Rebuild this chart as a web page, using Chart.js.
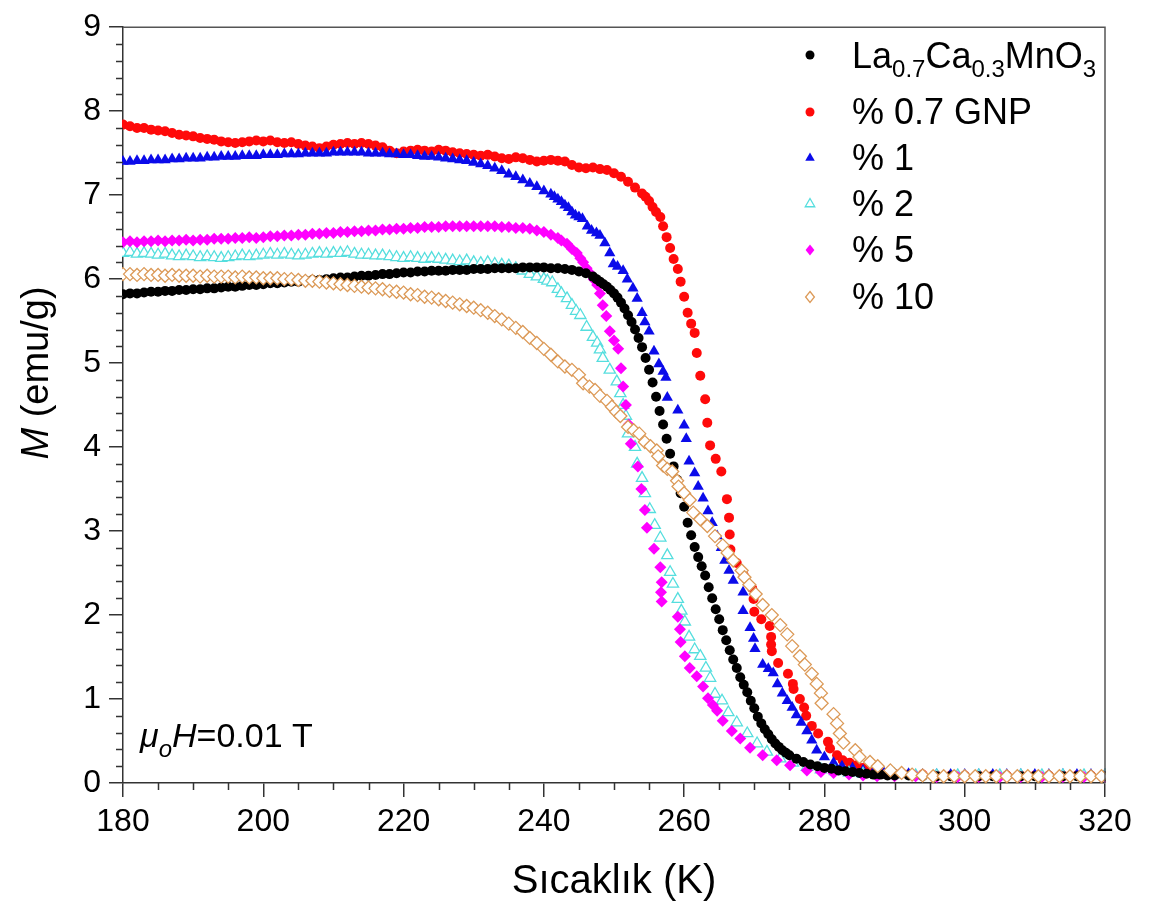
<!DOCTYPE html>
<html>
<head>
<meta charset="utf-8">
<title>M - T</title>
<script src="https://cdn.jsdelivr.net/npm/chart.js@4.4.1/dist/chart.umd.min.js"></script>
<style>
  html, body { margin: 0; padding: 0; background: #fff; }
  #wrap { width: 1149px; height: 910px; }
</style>
</head>
<body>
<div id="wrap"><canvas id="mt" width="1149" height="910"></canvas></div>
<script>
// [T (K), M (emu/g)]
const lcmo = [
  [180,5.82],[181,5.83],[182,5.83],[183,5.84],[184,5.85],[185,5.85],[186,5.86],[187,5.86],[188,5.87],[189,5.87],
  [190,5.88],[191,5.88],[192,5.89],[193,5.89],[194,5.90],[195,5.91],[196,5.91],[197,5.92],[198,5.93],[199,5.93],
  [200,5.94],[201,5.95],[202,5.95],[203,5.96],[204,5.97],[205,5.97],[206,5.98],[207,5.99],[208,5.99],[209,6.00],
  [210,6.01],[211,6.02],[212,6.02],[213,6.03],[214,6.04],[215,6.04],[216,6.05],[217,6.06],[218,6.06],[219,6.07],
  [220,6.08],[221,6.08],[222,6.09],[223,6.09],[224,6.10],[225,6.10],[226,6.10],[227,6.11],[228,6.11],[229,6.11],
  [230,6.12],[231,6.12],[232,6.12],[233,6.13],[234,6.13],[235,6.13],[236,6.13],[237,6.14],[238,6.14],[239,6.14],
  [240,6.14],[241,6.13],[242,6.13],[243,6.12],[244,6.11],[245,6.09],[246,6.07],[247,6.03],
  [247.5,6.00],[248,5.97],[248.5,5.94],[249,5.91],[249.5,5.87],[250,5.83],[250.5,5.78],[251,5.72],[251.5,5.65],[252,5.57],
  [252.5,5.49],[253,5.40],[253.5,5.30],[254,5.19],[254.5,5.06],[255,4.92],[255.5,4.77],[256,4.60],[256.5,4.43],[257,4.27],
  [257.5,4.10],[258,3.92],[258.5,3.77],[259,3.61],[259.5,3.45],[260,3.29],[260.5,3.10],[261,2.95],[261.5,2.81],[262,2.69],
  [262.5,2.58],[263,2.47],[263.5,2.33],[264,2.20],[264.5,2.07],[265,1.95],[265.5,1.82],[266,1.70],[266.5,1.58],[267,1.47],
  [267.5,1.37],[268,1.26],[268.5,1.17],[269,1.08],[269.5,0.98],[270,0.89],[270.5,0.79],[271,0.71],[271.5,0.64],[272,0.58],
  [272.5,0.52],[273,0.47],[273.5,0.43],[274,0.39],[274.5,0.36],[275,0.33],[276,0.29],[277,0.25],[278,0.22],[279,0.20],
  [280,0.18],[281,0.17],[282,0.15],[283,0.14],[284,0.13],[285,0.12],[286,0.11],[287,0.10],[288,0.10],[289,0.09],
  [290,0.09],[292,0.09],[294,0.08],[296,0.08],[298,0.08],[300,0.08],[302,0.08],[304,0.08],[306,0.08],[308,0.08],
  [310,0.08],[312,0.08],[314,0.08],[316,0.08],[318,0.08],[320,0.08]
];

const gnp07 = [
  [180,7.84],[181,7.82],[182,7.80],[183,7.80],[184,7.78],[185,7.77],[186,7.76],[187,7.74],[188,7.72],[189,7.71],
  [190,7.70],[191,7.68],[192,7.67],[193,7.66],[194,7.64],[195,7.63],[196,7.62],[197,7.63],[198,7.64],[199,7.65],
  [200,7.64],[201,7.65],[202,7.63],[203,7.62],[204,7.63],[205,7.61],[206,7.59],[207,7.58],[208,7.56],[209,7.58],
  [210,7.60],[211,7.61],[212,7.62],[213,7.61],[214,7.62],[215,7.61],[216,7.59],[217,7.57],[218,7.53],[219,7.50],
  [220,7.52],[221,7.53],[222,7.54],[223,7.53],[224,7.52],[225,7.54],[226,7.53],[227,7.51],[228,7.50],[229,7.49],
  [230,7.48],[231,7.47],[232,7.48],[233,7.46],[234,7.44],[235,7.43],[236,7.45],[237,7.44],[238,7.42],[239,7.40],
  [240,7.41],[241,7.42],[242,7.41],[243,7.40],[244,7.36],[245,7.33],[246,7.32],[247,7.33],[248,7.31],[249,7.30],
  [250,7.26],[251,7.22],[252,7.16],[253,7.09],[254,7.02],
  [254.5,6.98],[255,6.93],[255.5,6.86],[256,6.80],[256.6,6.74],[257,6.63],[257.5,6.50],[258,6.37],[258.5,6.24],[259.1,6.12],
  [259.5,5.97],[260,5.79],[260.5,5.60],[261,5.47],[261.5,5.36],[261.8,5.12],[262.3,4.85],[263,4.57],[263.3,4.29],[263.7,4.02],
  [264.5,3.86],[265.3,3.71],[266.1,3.38],[266.4,3.16],[266.5,2.96],[266.6,2.78],[267.5,2.62],[268.5,2.47],[269.7,2.32],[269.9,2.19],
  [270,2.04],[271,1.95],[272.2,1.87],[272.4,1.74],[272.4,1.65],[272.5,1.57],[273.4,1.43],[274.8,1.30],[275.5,1.18],[275.6,1.12],
  [276.5,1.00],[277.1,0.90],[277.4,0.80],[278.2,0.68],[279.1,0.59],[280.5,0.49],[280.8,0.41],[281.8,0.33],[282.6,0.27],[283.6,0.24],
  [284.6,0.21],[285.5,0.18],[286.5,0.16],[287.5,0.14],[288.5,0.12],[290,0.11],[292,0.10],[294,0.10],[296,0.09],[298,0.09],
  [300,0.09],[302,0.09],[304,0.09],[306,0.09],[308,0.09],[310,0.09],[312,0.09],[314,0.09],[316,0.09],[318,0.09],[320,0.09]
];

const gnp1 = [
  [180,7.40],[181,7.40],[182,7.41],[183,7.41],[184,7.42],[185,7.42],[186,7.42],[187,7.43],[188,7.43],[189,7.44],
  [190,7.44],[191,7.44],[192,7.45],[193,7.45],[194,7.46],[195,7.46],[196,7.46],[197,7.47],[198,7.47],[199,7.47],
  [200,7.48],[201,7.48],[202,7.48],[203,7.49],[204,7.49],[205,7.49],[206,7.50],[207,7.50],[208,7.50],[209,7.50],
  [210,7.51],[211,7.51],[212,7.51],[213,7.51],[214,7.51],[215,7.50],[216,7.50],[217,7.50],[218,7.49],[219,7.49],
  [220,7.48],[221,7.48],[222,7.47],[223,7.46],[224,7.46],[225,7.45],[226,7.44],[227,7.43],[228,7.42],[229,7.41],
  [230,7.39],[231,7.37],[232,7.35],[233,7.32],[234,7.29],[235,7.25],[236,7.22],[237,7.18],[238,7.14],[239,7.10],
  [240,7.05],[241,7.01],[241.5,6.98],[242,6.95],[242.5,6.92],[243,6.88],[243.5,6.85],[244,6.80],[244.5,6.76],[245,6.74],
  [245.5,6.72],[246.2,6.63],[246.8,6.58],[247.5,6.55],[248,6.52],[248.7,6.43],[249.4,6.31],[249.9,6.18],[250.5,6.15],[251.3,6.10],
  [251.9,6.00],[252.7,5.89],[253.3,5.77],[254,5.60],[254.4,5.49],[255,5.38],[255.7,5.14],[256.4,4.99],[257,4.90],[257.4,4.83],
  [257.6,4.59],[259.1,4.44],[260,4.26],[260.3,4.10],[260.7,3.83],[261.5,3.69],[262,3.53],[262.7,3.39],[263.4,3.24],[264,3.10],
  [264.7,2.94],[265.3,2.80],[265.8,2.65],[266.4,2.53],[267,2.41],[268.4,2.27],[268.4,2.05],[269.4,1.85],[269.9,1.72],[270.1,1.60],
  [271.2,1.41],[272,1.36],[272.7,1.31],[273.3,1.18],[274,1.07],[274.7,0.98],[275.4,0.90],[276,0.81],[276.7,0.72],[277.5,0.62],
  [278.2,0.51],[278.9,0.39],[280,0.31],[281.3,0.24],[282.5,0.20],[284,0.18],[285.5,0.15],[287,0.13],[288.5,0.12],[290,0.11],
  [292,0.11],[294,0.10],[296,0.10],[298,0.10],[300,0.10],[302,0.10],[304,0.10],[306,0.10],[308,0.10],[310,0.10],
  [312,0.10],[314,0.10],[316,0.10],[318,0.10],[320,0.10]
];

const gnp2 = [
  [180,6.31],[181,6.32],[182,6.30],[183,6.31],[184,6.30],[185,6.29],[186,6.30],[187,6.28],[188,6.27],[189,6.28],
  [190,6.27],[191,6.26],[192,6.27],[193,6.26],[194,6.25],[195,6.26],[196,6.27],[197,6.28],[198,6.27],[199,6.28],
  [200,6.29],[201,6.30],[202,6.29],[203,6.30],[204,6.29],[205,6.28],[206,6.29],[207,6.30],[208,6.31],[209,6.30],
  [210,6.31],[211,6.31],[212,6.32],[213,6.30],[214,6.29],[215,6.29],[216,6.28],[217,6.28],[218,6.27],[219,6.26],
  [220,6.25],[221,6.26],[222,6.25],[223,6.24],[224,6.25],[225,6.24],[226,6.23],[227,6.22],[228,6.21],[229,6.22],
  [230,6.20],[231,6.19],[232,6.20],[233,6.18],[234,6.17],[235,6.16],[236,6.13],[237,6.10],[238,6.06],[239,6.03],
  [240,6.00],[240.5,5.98],[241.2,5.96],[242,5.88],[242.5,5.83],[243.3,5.77],[244,5.69],[244.6,5.62],[245.2,5.57],[246.1,5.43],
  [247,5.31],[247.6,5.24],[248,5.16],[248.4,5.06],[249.4,4.92],[250.4,4.78],[250.9,4.64],[251.3,4.50],[251.7,4.37],[252,4.16],
  [253,4.00],[253.3,3.80],[254,3.63],[254.4,3.45],[255.1,3.26],[255.8,3.07],[256.6,2.92],[257.6,2.71],[258,2.51],[258.4,2.37],
  [259.1,2.19],[259.6,2.05],[260.1,1.92],[260.7,1.74],[261.5,1.59],[262.3,1.51],[263.1,1.37],[263.7,1.25],[264.4,1.06],[265.4,0.98],
  [266.3,0.84],[267.5,0.72],[269,0.59],[270.4,0.47],[271.8,0.37],[273.7,0.29],[275.5,0.24],[277.5,0.19],[279.5,0.16],[281.5,0.14],
  [283.5,0.12],[285.5,0.11],[287.5,0.10],[290,0.10],[293,0.09],[296,0.09],[299,0.09],[302,0.09],[305,0.09],[308,0.09],
  [311,0.09],[314,0.09],[317,0.09],[320,0.09]
];

const gnp5 = [
  [180,6.44],[181,6.45],[182,6.44],[183,6.45],[184,6.45],[185,6.46],[186,6.45],[187,6.46],[188,6.46],[189,6.47],
  [190,6.46],[191,6.47],[192,6.47],[193,6.48],[194,6.48],[195,6.48],[196,6.49],[197,6.49],[198,6.50],[199,6.49],
  [200,6.50],[201,6.51],[202,6.51],[203,6.52],[204,6.52],[205,6.53],[206,6.53],[207,6.54],[208,6.54],[209,6.55],
  [210,6.55],[211,6.56],[212,6.56],[213,6.57],[214,6.57],[215,6.58],[216,6.58],[217,6.59],[218,6.59],[219,6.60],
  [220,6.60],[221,6.61],[222,6.61],[223,6.62],[224,6.62],[225,6.62],[226,6.63],[227,6.63],[228,6.63],[229,6.63],
  [230,6.63],[231,6.63],[232,6.63],[233,6.63],[234,6.62],[235,6.62],[236,6.61],[237,6.61],[238,6.60],[239,6.58],
  [240,6.56],[241,6.53],[242,6.49],[242.5,6.46],[243.3,6.42],[244,6.36],[244.7,6.31],[245.2,6.25],[245.6,6.20],[246.1,6.13],
  [246.6,6.07],[247.1,6.00],[247.6,5.93],[248,5.83],[248.4,5.69],[248.9,5.56],[249.4,5.38],[250,5.27],[250.6,5.17],[251,4.94],
  [251.3,4.72],[251.7,4.50],[252.1,4.27],[252.4,4.04],[253.4,3.77],[253.9,3.50],[254.4,3.25],[254.7,3.04],[255.7,2.79],[256.6,2.57],
  [256.8,2.39],[256.7,2.27],[256.8,2.16],[259.1,1.98],[259.4,1.83],[259.5,1.68],[260.1,1.51],[260.8,1.37],[261.8,1.27],[262.7,1.15],
  [263.4,1.01],[264.1,0.93],[264.7,0.86],[265.5,0.74],[266.8,0.62],[268,0.53],[269.4,0.42],[271.2,0.33],[273.2,0.27],[275.1,0.21],
  [277.5,0.15],[279.5,0.13],[281.3,0.12],[283.5,0.10],[285.5,0.09],[287.5,0.08],[290,0.08],[293,0.08],[296,0.07],[299,0.07],
  [302,0.07],[305,0.07],[308,0.07],[311,0.07],[314,0.07],[317,0.07],[320,0.07]
];

const gnp10 = [
  [180,6.06],[181,6.06],[182,6.05],[183,6.06],[184,6.05],[185,6.05],[186,6.04],[187,6.05],[188,6.04],[189,6.04],
  [190,6.04],[191,6.03],[192,6.04],[193,6.03],[194,6.03],[195,6.03],[196,6.02],[197,6.03],[198,6.02],[199,6.02],
  [200,6.01],[201,6.01],[202,6.01],[203,6.00],[204,6.00],[205,5.99],[206,5.98],[207,5.98],[208,5.97],[209,5.96],
  [210,5.95],[211,5.94],[212,5.93],[213,5.92],[214,5.91],[215,5.90],[216,5.89],[217,5.88],[218,5.86],[219,5.85],
  [220,5.84],[221,5.82],[222,5.81],[223,5.79],[224,5.78],[225,5.76],[226,5.74],[227,5.72],[228,5.70],[229,5.68],
  [230,5.66],[231,5.63],[232,5.60],[233,5.56],[234,5.52],[235,5.47],[236,5.42],[237,5.37],[238,5.30],[239,5.24],
  [240,5.17],[241,5.10],[242,5.02],[243,4.96],[244,4.92],[245,4.86],[245.6,4.76],[246.5,4.72],[247.3,4.68],[248,4.61],
  [249,4.55],[249.7,4.48],[250.3,4.42],[250.9,4.37],[252,4.24],[252.8,4.20],[253.6,4.16],[254.4,4.06],[255.2,4.01],[256.1,3.96],
  [256.3,3.89],[257,3.78],[257.6,3.74],[258.3,3.71],[259,3.60],[259.2,3.53],[260,3.45],[260.8,3.37],[261.3,3.22],[262.3,3.14],
  [263.3,3.06],[264.4,2.94],[265.5,2.83],[266.2,2.74],[267,2.65],[268.2,2.53],[268.6,2.45],[269.3,2.36],[270.2,2.25],[271.2,2.12],
  [272.5,2.00],[273.7,1.88],[274.7,1.77],[275.4,1.63],[276.5,1.51],[277.2,1.41],[278.2,1.30],[278.9,1.18],[279.5,1.07],[279.6,0.95],
  [281.3,0.82],[281.8,0.71],[282.2,0.59],[282.7,0.48],[284.4,0.39],[285,0.31],[286.5,0.25],[287.6,0.20],[289.4,0.15],[291,0.12],
  [292.5,0.10],[294,0.09],[295.5,0.08],[297,0.08],[298.5,0.08],[300,0.08],[301.5,0.08],[303,0.08],[304.5,0.08],[306,0.08],
  [307.5,0.08],[309,0.08],[310.5,0.08],[312,0.08],[313.5,0.08],[315,0.08],[316.5,0.08],[318,0.08],[319.5,0.08]
];

const seriesNames = ['La0.7Ca0.3MnO3', '% 0.7 GNP', '% 1', '% 2', '% 5', '% 10'];
const xTicks = [180, 200, 220, 240, 260, 280, 300, 320];
const yTicks = [0, 1, 2, 3, 4, 5, 6, 7, 8, 9];

const FONT = '"Liberation Sans", Arial, sans-serif';

// marker styles per series (order as in the legend)
const styles = [
  { pointStyle: 'circle',   radius: 5,   fill: '#000000', stroke: '#000000', bw: 0,   order: 1 },
  { pointStyle: 'circle',   radius: 5,   fill: '#ff0a0a', stroke: '#ff0a0a', bw: 0,   order: 5 },
  { pointStyle: 'triangle', radius: 6.5, fill: '#0b0bea', stroke: '#0b0bea', bw: 0,   order: 4 },
  { pointStyle: 'triangle', radius: 6.5, fill: '#ffffff', stroke: '#55dede', bw: 1.3, order: 3 },
  { pointStyle: 'rectRot',  radius: 6,   fill: '#ff00ff', stroke: '#ff00ff', bw: 0,   order: 2 },
  { pointStyle: 'rectRot',  radius: 6.5, fill: '#ffffff', stroke: '#dc9a58', bw: 1.3, order: 0 }
];
const allData = [lcmo, gnp07, gnp1, gnp2, gnp5, gnp10];

const datasets = allData.map((d, i) => ({
  label: seriesNames[i],
  data: d.map(p => ({ x: p[0], y: p[1] })),
  pointStyle: styles[i].pointStyle,
  pointRadius: styles[i].radius,
  pointBackgroundColor: styles[i].fill,
  pointBorderColor: styles[i].stroke,
  pointBorderWidth: styles[i].bw,
  showLine: false,
  order: styles[i].order,
  clip: 1
}));

function marker(ctx, st, x, y, r) {
  ctx.save();
  ctx.fillStyle = st.fill;
  ctx.strokeStyle = st.stroke;
  ctx.lineWidth = st.bw || 1;
  ctx.beginPath();
  if (st.pointStyle === 'circle') {
    ctx.arc(x, y, r, 0, Math.PI * 2);
  } else if (st.pointStyle === 'triangle') {
    ctx.moveTo(x, y - r);
    ctx.lineTo(x + r * 0.866, y + r * 0.5);
    ctx.lineTo(x - r * 0.866, y + r * 0.5);
  } else {
    ctx.moveTo(x, y - r);
    ctx.lineTo(x + r * 0.8, y);
    ctx.lineTo(x, y + r);
    ctx.lineTo(x - r * 0.8, y);
  }
  ctx.closePath();
  ctx.fill();
  if (st.bw) ctx.stroke();
  ctx.restore();
}

// frame, minor ticks, legend, field note and axis titles
const decor = {
  id: 'decor',
  afterDraw(chart) {
    const ctx = chart.ctx;
    const a = chart.chartArea;
    const xs = chart.scales.x, ys = chart.scales.y;
    ctx.save();
    ctx.strokeStyle = '#555';
    ctx.lineWidth = 1.5;
    ctx.beginPath();
    ctx.moveTo(a.left, a.top); ctx.lineTo(a.right, a.top); ctx.lineTo(a.right, a.bottom);
    ctx.stroke();

    // minor ticks
    ctx.strokeStyle = '#333';
    ctx.beginPath();
    for (let t = 185; t < 320; t += 5) {
      if (t % 20 === 0) continue;
      const px = Math.round(xs.getPixelForValue(t)) + 0.5;
      ctx.moveTo(px, a.bottom); ctx.lineTo(px, a.bottom + 7);
    }
    for (let k = 1; k < 45; k++) {
      if (k % 5 === 0) continue;
      const py = Math.round(ys.getPixelForValue(k / 5)) + 0.5;
      ctx.moveTo(a.left, py); ctx.lineTo(a.left - 7, py);
    }
    ctx.stroke();

    // legend
    const rowsY = [55, 112, 158, 204, 250, 297];
    const legX = 810, txtX = 852;
    ctx.fillStyle = '#000';
    ctx.textBaseline = 'alphabetic';
    ctx.textAlign = 'left';
    rowsY.forEach((ry, i) => {
      marker(ctx, styles[i], legX, ry, styles[i].pointStyle === 'circle' ? 4.5 : 5.5);
      ctx.fillStyle = '#000';
      if (i === 0) {
        let x = txtX;
        const parts = [['La', 0], ['0.7', 1], ['Ca', 0], ['0.3', 1], ['MnO', 0], ['3', 1]];
        parts.forEach(([s, sub]) => {
          ctx.font = sub ? '24px ' + FONT : '36px ' + FONT;
          ctx.fillText(s, x, sub ? ry + 22 : ry + 13);
          x += ctx.measureText(s).width;
        });
      } else {
        ctx.font = '36px ' + FONT;
        ctx.fillText(seriesNames[i], txtX, ry + 12);
      }
    });

    // field note: mu_o H = 0.01 T
    let nx = 140;
    const nb = 747;
    ctx.font = 'italic 34px ' + FONT;
    ctx.fillText('\u03bc', nx, nb); nx += ctx.measureText('\u03bc').width;
    ctx.font = 'italic 24px ' + FONT;
    ctx.fillText('o', nx, nb + 10); nx += ctx.measureText('o').width;
    ctx.font = 'italic 34px ' + FONT;
    ctx.fillText('H', nx, nb); nx += ctx.measureText('H').width;
    ctx.font = '34px ' + FONT;
    ctx.fillText('=0.01 T', nx, nb);

    // x title
    ctx.font = '40px ' + FONT;
    ctx.textAlign = 'center';
    ctx.fillText('Sıcaklık (K)', (a.left + a.right) / 2, 893);

    // y title (rotated, italic M)
    ctx.translate(48, 373);
    ctx.rotate(-Math.PI / 2);
    ctx.textAlign = 'left';
    ctx.font = 'italic 38px ' + FONT;
    const wM = ctx.measureText('M').width;
    ctx.font = '38px ' + FONT;
    const wR = ctx.measureText(' (emu/g)').width;
    const x0 = -(wM + wR) / 2;
    ctx.font = 'italic 38px ' + FONT;
    ctx.fillText('M', x0, 0);
    ctx.font = '38px ' + FONT;
    ctx.fillText(' (emu/g)', x0 + wM, 0);
    ctx.restore();
  }
};

new Chart(document.getElementById('mt').getContext('2d'), {
  type: 'scatter',
  data: { datasets },
  options: {
    responsive: false,
    animation: false,
    devicePixelRatio: 1,
    layout: { padding: { left: 0, top: 19, right: 44, bottom: 0 } },
    plugins: { legend: { display: false }, tooltip: { enabled: false } },
    scales: {
      x: {
        type: 'linear', min: 180, max: 320,
        afterBuildTicks: s => { s.ticks = xTicks.map(v => ({ value: v })); },
        afterFit: s => { s.height = 127; },
        grid: { drawOnChartArea: false, tickLength: 14, color: '#333', lineWidth: 1.5 },
        border: { display: true, color: '#333', width: 1.5 },
        ticks: { color: '#000', padding: 6, maxRotation: 0, font: { family: FONT, size: 32 } }
      },
      y: {
        type: 'linear', min: 0, max: 9,
        afterBuildTicks: s => { s.ticks = yTicks.map(v => ({ value: v })); },
        afterFit: s => { s.width = 123; },
        grid: { drawOnChartArea: false, tickLength: 14, color: '#333', lineWidth: 1.5 },
        border: { display: true, color: '#333', width: 1.5 },
        ticks: { color: '#000', padding: 8, font: { family: FONT, size: 32 } }
      }
    }
  },
  plugins: [decor]
});
</script>
</body>
</html>
